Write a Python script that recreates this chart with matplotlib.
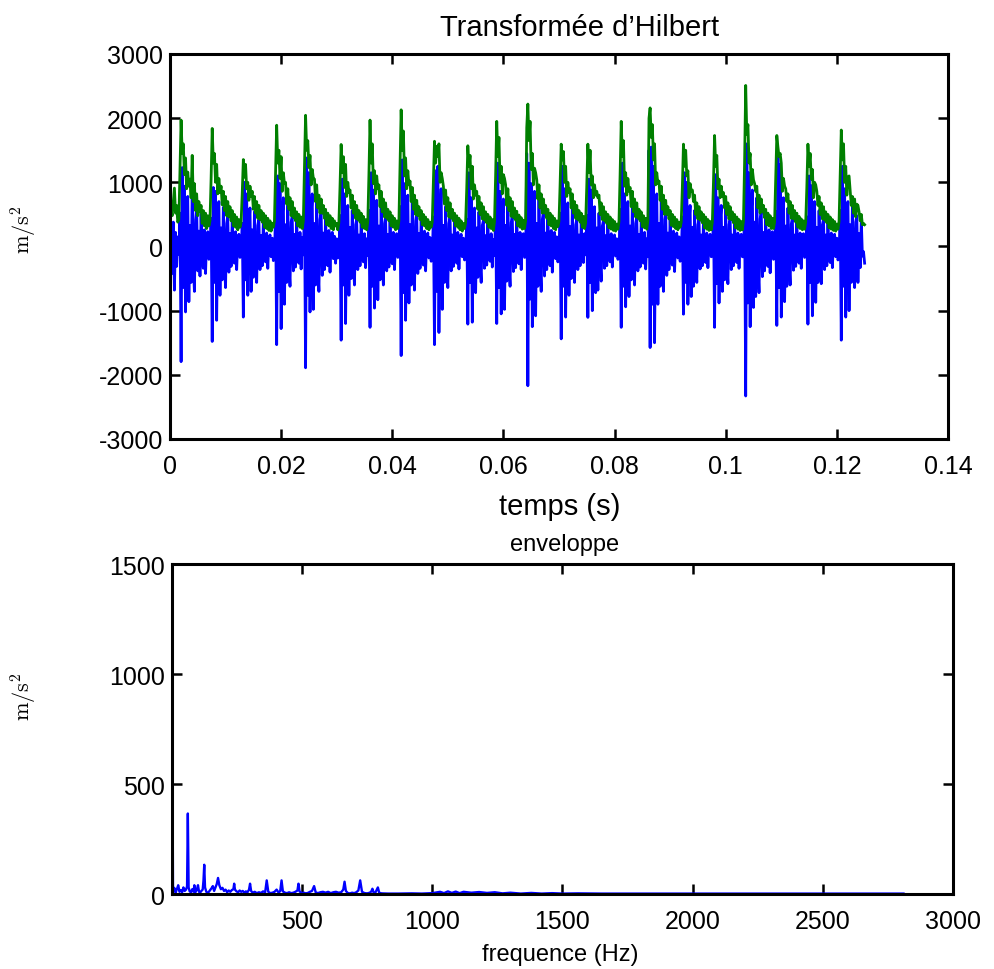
"""Hilbert transform of an acceleration record and its envelope spectrum."""

import matplotlib
matplotlib.use("Agg")
import matplotlib.pyplot as plt
import numpy as np

SAMPLE_STEP = 0.0002  # s

# acceleration signal (m/s^2), one block per impact
accel = [
    -180, 260, -420, 380, -680, 220, -310, 150,
    # 1
    -120, 520, -1795, 1230, -640, 940, -1020, 410, 780, -860, 330, -560, 880, -300,
    -700, 420, 600, -380, 240, -460, 520, -180, -340, 260, -420, 150, 230, -200,
    # 2
    -150, 440, -1480, 920, -560, 860, -1150, 380, 700, -760, 290, -520, 610, -240,
    -640, 360, 480, -400, 200, -310, 420, -140, -260, 230, -360, 110, 190, -170,
    # 3
    -140, 360, -1100, 1000, -520, 820, -760, 340, 600, -700, 260, -480, 540, -220, -560,
    330, 420, -360, 170, -300, 380, -130, -240, 210, -340, 100, 180, -160, 130, -220,
    # 4
    -160, 560, -1530, 1100, -700, 980, -1280, 420, 760, -900, 340, -560, 640,
    -260, -620, 380, 460, -380, 190, -320, 400, -150, -260, 220, -350, 140,
    # 5
    -130, 640, -1890, 1380, -760, 1150, -1020, 460, 820, -980, 360, -600, 720, -280, -700, 420,
    540, -450, 210, -360, 480, -170, -300, 250, -400, 130, 220, -190, 160, -260, 120, -180,
    # 6
    -150, 480, -1460, 1050, -600, 820, -1200, 380, 640, -760, 300, -500, 560,
    -240, -600, 340, 420, -360, 180, -300, 380, -140, -240, 200, -330, 120,
    # 7
    -140, 560, -1260, 1150, -620, 880, -960, 400, 720, -830, 320, -520, 640, -250,
    -600, 360, 460, -380, 190, -320, 420, -150, -270, 220, -360, 120, 200, -170,
    # 8
    -150, 620, -1700, 1350, -720, 980, -1150, 440, 800, -880, 340, -600, 700, -270, -680,
    400, 520, -420, 200, -340, 460, -160, -290, 240, -380, 130, 210, -180, 140, -230,
    # 9
    -140, 460, -1530, 1180, -700, 1250, -1340, 420, 900, -980, 330, -560, 620, -250, -640,
    360, 460, -380, 180, -310, 400, -150, -260, 220, -350, 120, 190, -160, 130, -210,
    # 10
    -130, 420, -1210, 1150, -560, 760, -1180, 360, 600, -720, 290, -480, 540,
    -230, -560, 330, 400, -340, 170, -290, 370, -130, -230, 200, -320, 110,
    # 11
    -140, 540, -1200, 1300, -640, 860, -1050, 420, 740, -980, 330, -540, 680, -260,
    -620, 370, 480, -390, 190, -330, 430, -150, -270, 220, -360, 120, 200, -170,
    # 12
    -160, 1450, -2170, 1300, -820, 980, -1250, 460, 860, -1080, 360, -620, 760, -280, -700,
    420, 540, -460, 210, -360, 480, -170, -300, 250, -400, 130, 220, -190, 150, -240,
    # 13
    -150, 520, -1440, 1250, -620, 900, -1100, 400, 680, -760, 310, -500,
    580, -240, -560, 340, 420, -360, 180, -300, 380, -140, -250, 200,
    # 14
    -130, 480, -1105, 1050, -560, 880, -1000, 380, 620, -720, 290, -680, 520, -230, -540,
    320, 400, -340, 170, -300, 360, -130, -240, 200, -320, 110, 180, -150, 120, -200,
    # 15
    -150, 580, -1260, 1300, -620, 820, -940, 410, 700, -780, 320, -520, 640,
    -250, -600, 360, 460, -380, 190, -320, 420, -150, -260, 220, -350, 120,
    # 16
    -160, 1500, -1575, 1550, -900, 1250, -1500, 460, 820, -900, 360, -620, 720, -280, -700,
    420, 540, -450, 210, -360, 470, -170, -290, 240, -390, 130, 210, -180, 150, -230,
    # 17
    -140, 460, -1055, 1150, -560, 1000, -900, 380, 640, -780, 300, -620, 560, -240,
    -560, 340, 420, -350, 180, -300, 380, -140, -250, 210, -330, 110, 190, -160,
    # 18
    -140, 500, -1260, 1120, -580, 760, -880, 380, 640, -700, 300, -520, 580, -240,
    -580, 340, 430, -360, 180, -300, 390, -140, -250, 210, -340, 120, 190, -160,
    # 19
    -160, 620, -2330, 1600, -880, 1150, -1250, 500, 880, -950, 380, -780, 760, -290,
    -720, 430, 560, -470, 220, -380, 490, -170, -310, 260, -410, 140, 230, -200,
    # 20
    -140, 540, -1230, 1450, -640, 1280, -1100, 420, 760, -860, 320, -620, 600, -250,
    -600, 350, 440, -370, 180, -310, 400, -140, -260, 210, -340, 120, 200, -170,
    # 21
    -140, 460, -1210, 1100, -560, 950, -1080, 390, 700, -870, 300, -560, 560, -240, -580,
    340, 420, -360, 180, -300, 380, -140, -250, 210, -330, 110, 190, -160, 130, -210,
    # 22
    -150, 560, -1460, 1250, -620, 900, -1100, 440, 700, -1000, 340, -560,
    640, -260, -640, 380, 480, -560, 200, -330, 420, -150, -80, -260,
]

# Hilbert envelope of the same record
envelope = [
    420, 560, 480, 700, 910, 520, 640, 380,
    # 1
    420, 1180, 1970, 1450, 1600, 1120, 1380, 900, 1160, 940, 1050, 760, 1420, 700,
    980, 560, 820, 480, 700, 540, 640, 360, 560, 320, 520, 280, 480, 320,
    # 2
    400, 1050, 1840, 1300, 1450, 1000, 1280, 820, 1060, 840, 940, 650, 860, 560,
    780, 480, 700, 460, 620, 400, 560, 320, 500, 300, 460, 260, 420, 300,
    # 3
    380, 820, 1355, 1080, 1280, 900, 1000, 720, 940, 780, 860, 580, 780, 520, 700,
    440, 640, 420, 560, 380, 520, 300, 480, 280, 440, 250, 400, 240, 360, 300,
    # 4
    400, 1120, 1890, 1300, 1500, 1060, 1400, 860, 1150, 980, 1000, 660, 900,
    580, 760, 480, 700, 450, 600, 400, 540, 320, 500, 300, 460, 280,
    # 5
    400, 1200, 2045, 1500, 1650, 1230, 1420, 960, 1200, 1060, 1050, 700, 960, 600, 800, 520,
    740, 520, 640, 440, 580, 340, 520, 320, 480, 280, 440, 260, 400, 320, 360, 260,
    # 6
    380, 940, 1590, 1150, 1400, 920, 1280, 780, 1000, 840, 880, 600, 800,
    520, 700, 440, 640, 420, 560, 380, 520, 300, 470, 280, 420, 260,
    # 7
    390, 1120, 1970, 1300, 1600, 980, 1180, 820, 1100, 900, 960, 620, 860, 540,
    740, 460, 680, 440, 580, 400, 540, 320, 480, 300, 440, 260, 400, 280,
    # 8
    400, 1250, 2130, 1500, 1800, 1100, 1380, 900, 1180, 960, 1020, 700, 920, 580, 800,
    500, 720, 480, 620, 420, 560, 340, 500, 320, 460, 280, 420, 260, 380, 300,
    # 9
    380, 980, 1640, 1300, 1560, 1400, 1600, 1000, 1150, 1060, 940, 660, 880, 560, 760,
    460, 680, 440, 580, 400, 520, 320, 480, 300, 440, 260, 400, 240, 360, 280,
    # 10
    370, 900, 1570, 1250, 1420, 900, 1250, 740, 960, 800, 860, 580, 780,
    500, 680, 430, 620, 410, 540, 370, 500, 300, 460, 280, 420, 250,
    # 11
    390, 1100, 1950, 1400, 1700, 1000, 1250, 820, 1120, 1060, 960, 640, 900, 560,
    760, 470, 700, 450, 600, 410, 550, 320, 490, 300, 450, 270, 410, 280,
    # 12
    400, 1850, 2220, 1650, 1950, 1200, 1450, 960, 1220, 1150, 1040, 740, 960, 600, 820,
    520, 740, 520, 640, 440, 580, 340, 520, 320, 480, 280, 440, 260, 400, 310,
    # 13
    390, 960, 1595, 1350, 1480, 1000, 1250, 780, 1000, 840, 900, 600,
    820, 520, 700, 440, 640, 420, 560, 380, 520, 300, 470, 280,
    # 14
    370, 940, 1595, 1150, 1500, 960, 1100, 760, 960, 800, 860, 760, 800, 500, 680,
    420, 620, 400, 540, 360, 500, 290, 460, 270, 420, 250, 390, 240, 350, 270,
    # 15
    390, 1120, 1950, 1400, 1650, 940, 1150, 800, 1060, 860, 920, 620, 860,
    540, 740, 460, 680, 440, 580, 400, 540, 310, 480, 290, 440, 270,
    # 16
    400, 2000, 2160, 1700, 1900, 1350, 1600, 960, 1150, 980, 1020, 720, 940, 580, 800,
    500, 720, 500, 620, 430, 560, 330, 500, 310, 460, 280, 420, 260, 380, 300,
    # 17
    380, 920, 1595, 1250, 1500, 1100, 1180, 760, 980, 860, 880, 700, 800, 500,
    680, 430, 620, 410, 540, 370, 500, 290, 460, 270, 420, 250, 390, 260,
    # 18
    380, 1000, 1730, 1250, 1420, 900, 1050, 760, 940, 780, 840, 600, 780, 500,
    680, 430, 620, 420, 540, 370, 500, 290, 460, 270, 420, 250, 390, 260,
    # 19
    400, 1300, 2510, 1750, 1900, 1300, 1450, 960, 1200, 1040, 980, 860, 940, 600,
    800, 520, 740, 540, 640, 450, 580, 340, 520, 320, 480, 280, 440, 280,
    # 20
    380, 1050, 1730, 1550, 1400, 1450, 1300, 860, 1060, 940, 900, 700, 820, 520,
    700, 440, 640, 430, 560, 380, 520, 300, 470, 280, 430, 260, 400, 270,
    # 21
    380, 920, 1595, 1250, 1450, 1050, 1200, 760, 1000, 960, 860, 640, 780, 500, 680,
    430, 620, 410, 540, 370, 500, 290, 460, 270, 420, 250, 390, 240, 350, 270,
    # 22
    390, 1080, 1815, 1350, 1600, 1000, 1250, 800, 1080, 1100, 860, 640,
    780, 520, 740, 460, 660, 640, 540, 400, 500, 340, 360, 340,
]

# envelope spectrum
freq_hz = [
    0, 4, 9, 14, 19, 24, 29, 34, 39, 44,
    49, 54, 58, 61, 64, 68, 73, 78, 83, 86,
    90, 95, 100, 104, 108, 113, 118, 121, 124, 127,
    132, 138, 143, 148, 153, 157, 162, 167, 172, 177,
    182, 188, 194, 200, 206, 212, 218, 224, 230, 236,
    239, 242, 248, 254, 260, 266, 272, 278, 284, 290,
    296, 300, 304, 310, 318, 326, 334, 342, 350, 358,
    364, 370, 378, 386, 394, 402, 410, 416, 421, 426,
    434, 442, 450, 458, 466, 474, 482, 486, 490, 498,
    506, 514, 522, 530, 538, 546, 552, 560, 570, 580,
    590, 600, 610, 620, 630, 640, 650, 658, 663, 668,
    676, 684, 692, 700, 708, 716, 723, 730, 740, 750,
    760, 766, 770, 775, 782, 791, 796, 805, 830, 870,
    920, 960, 1000, 1030, 1045, 1060, 1075, 1090, 1105, 1120,
    1150, 1180, 1210, 1240, 1270, 1300, 1340, 1380, 1420, 1460,
    1500, 1560, 1650, 1800, 2000, 2200, 2400, 2600, 2810,
]
spectrum = [
    1157, 12, 28, 6, 22, 40, 10, 18, 8, 30,
    14, 20, 35, 366, 30, 12, 8, 22, 10, 40,
    8, 18, 40, 10, 6, 14, 20, 60, 133, 30,
    10, 5, 12, 20, 28, 36, 14, 30, 45, 73,
    40, 22, 28, 14, 20, 8, 16, 10, 18, 22,
    47, 20, 12, 8, 16, 10, 14, 6, 12, 8,
    20, 47, 14, 6, 10, 4, 8, 5, 12, 8,
    62, 10, 4, 6, 10, 20, 6, 14, 62, 12,
    6, 4, 8, 4, 6, 10, 16, 47, 12, 4,
    6, 3, 5, 10, 14, 36, 8, 4, 8, 10,
    6, 10, 4, 8, 10, 6, 8, 20, 56, 14,
    4, 3, 6, 4, 8, 16, 62, 10, 4, 3,
    6, 12, 24, 6, 8, 30, 6, 3, 2, 2,
    3, 2, 4, 10, 4, 12, 5, 11, 4, 10,
    6, 9, 5, 8, 3, 6, 2, 5, 2, 4,
    2, 3, 2, 2, 2, 2, 2, 2, 2,
]

time_ticks = [0, 0.02, 0.04, 0.06, 0.08, 0.1, 0.12, 0.14]
time_labels = ["0", "0.02", "0.04", "0.06", "0.08", "0.1", "0.12", "0.14"]
accel_ticks = [-3000, -2000, -1000, 0, 1000, 2000, 3000]
freq_ticks = [500, 1000, 1500, 2000, 2500, 3000]
spec_ticks = [0, 500, 1000, 1500]


def style_axes(ax):
    for spine in ax.spines.values():
        spine.set_linewidth(2.2)
    ax.tick_params(direction="in", top=True, right=True, length=7, width=1.8,
                   labelsize=18)
    ax.tick_params(axis="x", pad=11)
    ax.tick_params(axis="y", pad=5)


def main():
    plt.rcParams["font.family"] = ["Liberation Sans", "DejaVu Sans"]
    plt.rcParams["mathtext.fontset"] = "cm"
    plt.rcParams["axes.unicode_minus"] = False

    fig = plt.figure(figsize=(9.94, 9.70), dpi=100)

    # time signal + envelope
    ax1 = fig.add_axes([0.1710, 0.5464, 0.7827, 0.3969])
    t = np.arange(len(accel)) * SAMPLE_STEP
    ax1.plot(t, accel, color="#0000ff", linewidth=2.0)
    ax1.plot(t, envelope, color="#007f00", linewidth=2.0)
    ax1.set_xlim(0, 0.14)
    ax1.set_ylim(-3000, 3000)
    ax1.set_xticks(time_ticks)
    ax1.set_xticklabels(time_labels)
    ax1.set_yticks(accel_ticks)
    style_axes(ax1)

    # envelope spectrum
    ax2 = fig.add_axes([0.1730, 0.0773, 0.7857, 0.3402])
    ax2.plot(freq_hz, spectrum, color="#0000ff", linewidth=1.7)
    ax2.set_xlim(0, 3000)
    ax2.set_ylim(0, 1500)
    ax2.set_xticks(freq_ticks)
    ax2.set_yticks(spec_ticks)
    style_axes(ax2)

    fig.text(580 / 994, 1 - 28 / 970, "Transformée d’Hilbert", fontsize=21,
             ha="center", va="center")
    fig.text(560 / 994, 1 - 507 / 970, "temps (s)", fontsize=21,
             ha="center", va="center")
    fig.text(565 / 994, 1 - 545 / 970, "enveloppe", fontsize=17,
             ha="center", va="center")
    fig.text(560 / 994, 1 - 955 / 970, "frequence (Hz)", fontsize=17,
             ha="center", va="center")
    for ypix in (230, 697):
        fig.text(24 / 994, 1 - ypix / 970, r"$\mathrm{m/s^2}$", fontsize=16,
                 rotation=90, ha="center", va="center")

    fig.savefig("out.png", dpi=100)
    plt.close(fig)


if __name__ == "__main__":
    main()
